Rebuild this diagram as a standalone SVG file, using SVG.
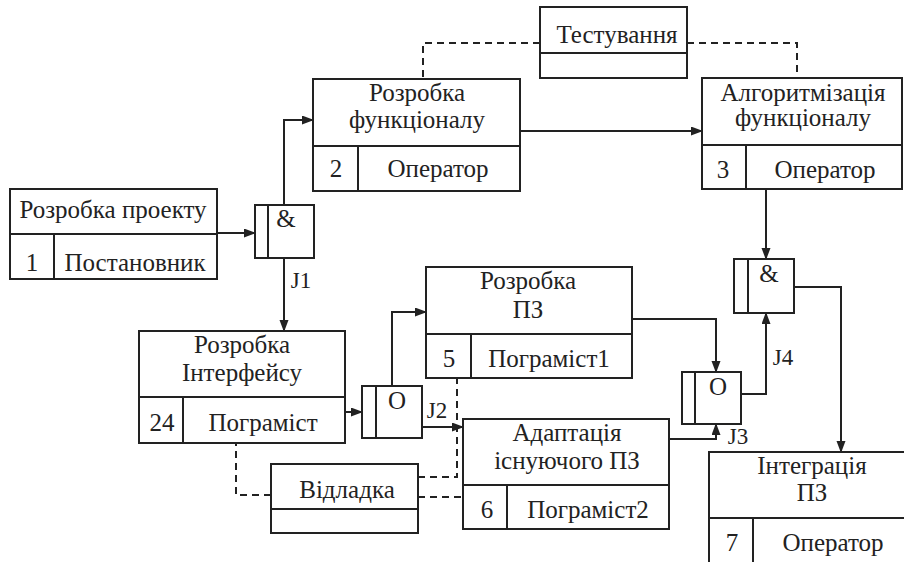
<svg xmlns="http://www.w3.org/2000/svg" width="904" height="562" viewBox="0 0 904 562">
<style>
.b{fill:#fff;stroke:#222;stroke-width:2}
.l{fill:none;stroke:#222;stroke-width:2}
.c{fill:none;stroke:#222;stroke-width:2;marker-end:url(#ah)}
.d{fill:none;stroke:#222;stroke-width:2;stroke-dasharray:7 5}
text{font-size:25px;fill:#222;text-anchor:middle}
.j{font-size:23px}
</style>
<defs>
<marker id="ah" markerWidth="12" markerHeight="10" refX="11" refY="4.5" orient="auto" markerUnits="userSpaceOnUse">
<path d="M0,0 L12,4.5 L0,9 z" fill="#222"/>
</marker>
</defs>
<rect width="904" height="562" fill="#fff"/>
<g font-family="Liberation Serif, Times New Roman, serif">
<g id="connectors">
<path class="c" d="M217,233 H255"/>
<path class="c" d="M284,205 V120 H313"/>
<path class="c" d="M284,258 V331"/>
<path class="c" d="M520,131 H702"/>
<path class="c" d="M766,189 V259"/>
<path class="c" d="M345,412 H362"/>
<path class="c" d="M392,386 V312 H426"/>
<path class="c" d="M422,427 H463"/>
<path class="c" d="M632,319 H716 V372"/>
<path class="c" d="M669,439 H716 V424"/>
<path class="c" d="M741,394 H766 V313"/>
<path class="c" d="M794,287 H841 V452"/>
<path class="d" d="M540,43 H423 V79"/>
<path class="d" d="M687,43 H797 V78"/>
<path class="d" d="M271,495 H236 V443"/>
<path class="d" d="M418,477 H457 V378"/>
<path class="d" d="M418,497 H463"/>
<text class="j" x="301" y="288">J1</text>
<text class="j" x="437" y="418">J2</text>
<text class="j" x="738" y="444">J3</text>
<text class="j" x="783" y="365">J4</text>
</g>
<g id="n1">
<rect class="b" x="10" y="189" width="207" height="90"/>
<path class="l" d="M10,234 H217 M54,234 V279"/>
<text x="113" y="218">Розробка проекту</text>
<text x="32" y="271">1</text>
<text x="135" y="271">Постановник</text>
</g>
<g id="n2">
<rect class="b" x="313" y="79" width="207" height="112"/>
<path class="l" d="M313,146 H520 M358,146 V191"/>
<text x="417" y="101">Розробка</text>
<text x="417" y="128">функціоналу</text>
<text x="336" y="177">2</text>
<text x="438" y="177">Оператор</text>
</g>
<g id="n3">
<rect class="b" x="702" y="78" width="200" height="111"/>
<path class="l" d="M702,145 H902 M746,145 V189"/>
<text x="803" y="101">Алгоритмізація</text>
<text x="803" y="126">функціоналу</text>
<text x="723" y="178">3</text>
<text x="825" y="178">Оператор</text>
</g>
<g id="n24">
<rect class="b" x="139" y="331" width="206" height="112"/>
<path class="l" d="M139,397 H345 M183,397 V443"/>
<text x="242" y="353">Розробка</text>
<text x="242" y="381">Інтерфейсу</text>
<text x="162" y="431">24</text>
<text x="263" y="431">Пограміст</text>
</g>
<g id="n5">
<rect class="b" x="426" y="267" width="206" height="111"/>
<path class="l" d="M426,334 H632 M471,334 V378"/>
<text x="528" y="289">Розробка</text>
<text x="528" y="318">ПЗ</text>
<text x="449" y="367">5</text>
<text x="549" y="367">Пограміст1</text>
</g>
<g id="n6">
<rect class="b" x="463" y="419" width="206" height="110"/>
<path class="l" d="M463,485 H669 M507,485 V529"/>
<text x="567" y="441">Адаптація</text>
<text x="567" y="469">існуючого ПЗ</text>
<text x="487" y="518">6</text>
<text x="588" y="518">Пограміст2</text>
</g>
<g id="n7">
<rect class="b" x="709" y="452" width="200" height="116"/>
<path class="l" d="M709,518 H909 M753,518 V568"/>
<text x="812" y="474">Інтеграція</text>
<text x="812" y="501">ПЗ</text>
<text x="732" y="551">7</text>
<text x="833" y="551">Оператор</text>
</g>
<g id="test">
<rect class="b" x="540" y="7" width="147" height="71"/>
<path class="l" d="M540,53 H687"/>
<text x="617" y="43">Тестування</text>
</g>
<g id="debug">
<rect class="b" x="271" y="464" width="147" height="69"/>
<path class="l" d="M271,509 H418"/>
<text x="347" y="498">Відладка</text>
</g>
<g id="J1">
<rect class="b" x="255" y="205" width="59" height="53"/>
<path class="l" d="M268,205 V258"/>
<text x="286" y="227">&amp;</text>
</g>
<g id="J2">
<rect class="b" x="362" y="386" width="60" height="52"/>
<path class="l" d="M376,386 V438"/>
<text x="397" y="409">O</text>
</g>
<g id="J3">
<rect class="b" x="682" y="372" width="59" height="52"/>
<path class="l" d="M695,372 V424"/>
<text x="718" y="395">O</text>
</g>
<g id="J4">
<rect class="b" x="734" y="259" width="60" height="54"/>
<path class="l" d="M748,259 V313"/>
<text x="769" y="282">&amp;</text>
</g>
</g>
</svg>
